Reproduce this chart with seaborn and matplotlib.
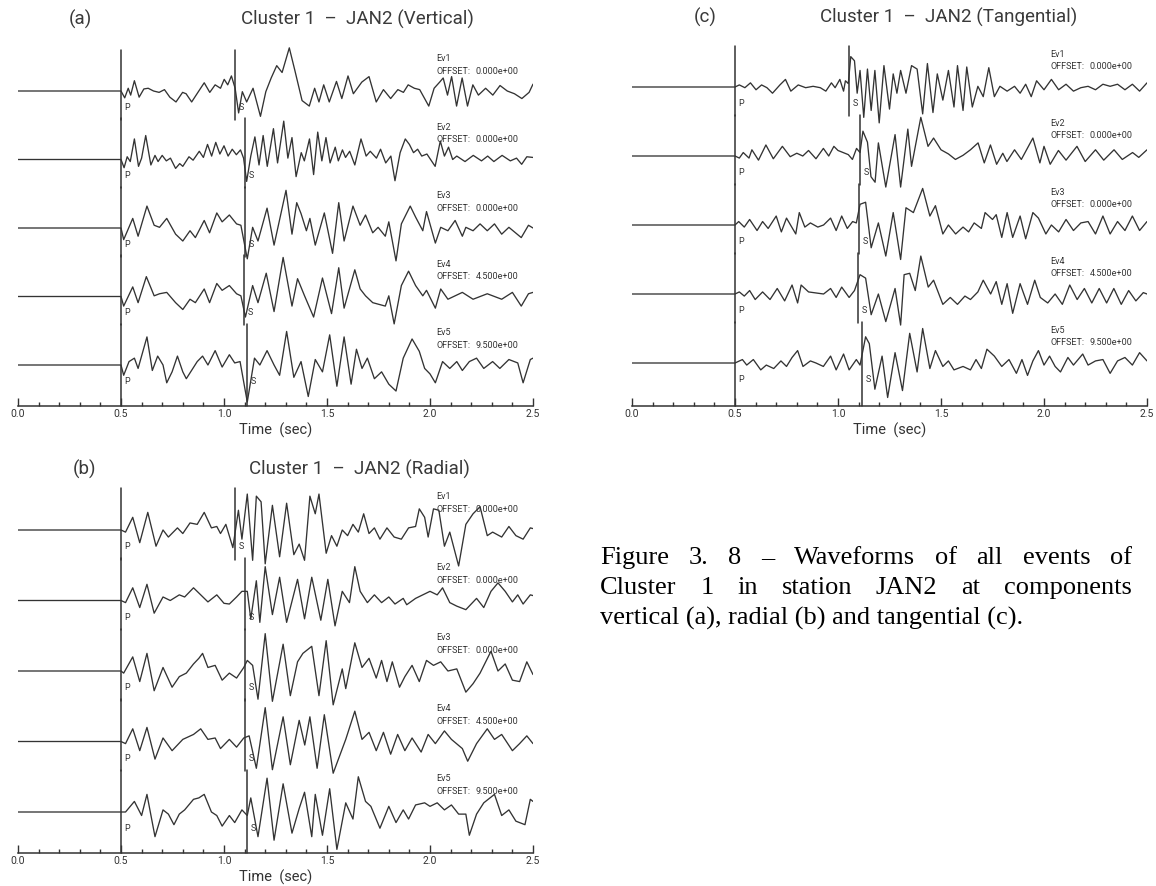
import numpy as np
import pandas as pd
import matplotlib
matplotlib.use("Agg")
import matplotlib.pyplot as plt
import seaborn as sns
from matplotlib.ticker import MultipleLocator, FormatStrFormatter

sns.set_theme(style="white")
plt.rcParams["font.family"] = ["DejaVu Sans"]

# ---------------- data: (time s, normalised amplitude) extrema ----------------
EVENTS = ["Ev1", "Ev2", "Ev3", "Ev4", "Ev5"]
OFFSETS = ["0.000e+00", "0.000e+00", "0.000e+00", "4.500e+00", "9.500e+00"]
P_TIME = 0.5
S_VERT = [1.053, 1.100, 1.100, 1.096, 1.113]
S_RAD = [1.053, 1.100, 1.100, 1.100, 1.113]
S_TAN = [1.052, 1.107, 1.101, 1.098, 1.116]

VERT_EV1 = [(0.500,0),(0.518,-0.10),(0.535,0.04),(0.547,-0.06),(0.565,0.15),(0.588,-0.09),(0.611,0.03),(0.632,0.04),(0.658,0),(0.685,-0.02),(0.711,0.02),(0.737,-0.09),(0.767,-0.16),(0.799,-0.02),(0.816,-0.04),(0.843,-0.16),(0.869,-0.04),(0.904,0.12),(0.931,-0.02),(0.957,0.09),(0.983,0.04),(1.001,0.17),(1.018,0.09),(1.036,0.22),(1.054,0.04),(1.071,-0.32),(1.089,-0.01),(1.110,-0.16),(1.141,0.04),(1.177,-0.37),(1.203,-0.01),(1.229,0.19),(1.256,0.37),(1.282,0.27),(1.317,0.63),(1.344,0.30),(1.379,-0.14),(1.414,-0.22),(1.440,0.04),(1.461,-0.16),(1.484,0.09),(1.511,-0.16),(1.546,0.14),(1.572,-0.11),(1.602,0.22),(1.628,-0.04),(1.669,0.13),(1.704,0.21),(1.739,-0.16),(1.774,0.02),(1.809,-0.11),(1.844,0.02),(1.871,-0.02),(1.894,0.09),(1.924,0.04),(1.950,0.02),(1.994,-0.22),(2.020,0.04),(2.047,0.13),(2.064,0.19),(2.085,-0.06),(2.105,0.21),(2.129,-0.22),(2.156,0.19),(2.182,-0.22),(2.208,0.09),(2.235,-0.06),(2.270,0.04),(2.305,-0.06),(2.340,0.08),(2.375,0),(2.410,-0.04),(2.446,-0.11),(2.481,-0.02),(2.500,0.10)]
VERT_EV2 = [(0.50,0),(0.515,-0.12),(0.53,0.04),(0.545,-0.03),(0.565,0.30),(0.585,-0.10),(0.60,0.02),(0.62,0.35),(0.645,-0.08),(0.665,0.06),(0.68,-0.03),(0.70,0.06),(0.72,-0.02),(0.74,0.02),(0.765,-0.13),(0.785,-0.06),(0.80,-0.10),(0.83,0.04),(0.85,-0.01),(0.88,0.12),(0.90,0.03),(0.92,0.22),(0.94,0.05),(0.96,0.25),(0.98,0.08),(1.00,0.20),(1.02,0.05),(1.04,0.15),(1.06,0.07),(1.08,0.14),(1.095,0.02),(1.11,-0.32),(1.13,0.05),(1.15,0.33),(1.17,-0.08),(1.19,0.35),(1.21,-0.10),(1.24,0.45),(1.26,-0.05),(1.29,0.56),(1.31,0.02),(1.33,0.32),(1.35,-0.25),(1.375,0.10),(1.39,-0.02),(1.415,0.30),(1.435,-0.22),(1.455,0.40),(1.475,-0.02),(1.495,0.32),(1.515,-0.05),(1.54,0.18),(1.555,-0.02),(1.575,0.14),(1.59,0.03),(1.61,0.12),(1.635,-0.08),(1.665,0.30),(1.69,0.05),(1.71,0.12),(1.74,0.02),(1.76,0.15),(1.785,-0.05),(1.81,0.05),(1.83,-0.31),(1.855,0.10),(1.88,0.30),(1.90,0.22),(1.92,0.10),(1.94,0.15),(1.96,0.05),(1.985,0.08),(2.025,-0.10),(2.05,0.27),(2.07,0.05),(2.09,0.18),(2.11,0.0),(2.13,0.05),(2.17,-0.03),(2.21,0.06),(2.25,-0.02),(2.28,0.05),(2.31,-0.03),(2.35,0.06),(2.39,-0.02),(2.42,0.02),(2.445,-0.07),(2.47,0.04),(2.50,0.03)]
VERT_EV3 = [(0.50,0),(0.513,-0.17),(0.557,0.14),(0.583,-0.12),(0.626,0.32),(0.661,0.04),(0.687,0.01),(0.722,0.14),(0.765,-0.09),(0.80,-0.19),(0.835,-0.04),(0.861,-0.14),(0.904,0.11),(0.93,-0.07),(0.965,0.22),(0.991,0.09),(1.026,0.19),(1.061,0.06),(1.082,0.04),(1.113,-0.45),(1.139,0.01),(1.165,-0.19),(1.209,0.29),(1.243,-0.25),(1.301,0.55),(1.33,-0.09),(1.353,0.37),(1.374,0.21),(1.40,-0.04),(1.417,0.14),(1.443,-0.25),(1.487,0.22),(1.527,-0.37),(1.557,0.37),(1.583,-0.19),(1.626,0.32),(1.661,0.04),(1.687,0.19),(1.722,-0.07),(1.748,0.01),(1.783,-0.12),(1.80,0.09),(1.835,-0.48),(1.861,0.06),(1.904,0.32),(1.93,0.16),(1.965,-0.04),(1.983,0.24),(2.026,-0.22),(2.052,0.01),(2.087,-0.04),(2.122,0.11),(2.157,-0.12),(2.174,0.01),(2.209,-0.04),(2.243,0.06),(2.278,-0.04),(2.313,0.06),(2.348,-0.09),(2.383,0.01),(2.443,-0.14),(2.478,0.04),(2.50,0.0)]
VERT_EV4 = [(0.50,0),(0.513,-0.14),(0.557,0.14),(0.583,-0.09),(0.623,0.29),(0.661,0.01),(0.687,0.04),(0.722,0.06),(0.765,-0.09),(0.80,-0.19),(0.835,-0.04),(0.861,-0.09),(0.904,0.11),(0.93,-0.09),(0.965,0.19),(0.991,0.09),(1.026,0.16),(1.061,0.04),(1.082,0.01),(1.104,-0.30),(1.139,0.16),(1.165,-0.09),(1.205,0.34),(1.243,-0.22),(1.287,0.57),(1.33,-0.14),(1.357,0.26),(1.391,0.01),(1.435,-0.30),(1.478,0.27),(1.522,-0.25),(1.557,0.42),(1.583,-0.17),(1.635,0.39),(1.661,0.11),(1.687,0.01),(1.722,-0.09),(1.783,-0.14),(1.80,0.01),(1.826,-0.40),(1.861,0.16),(1.896,0.37),(1.93,0.16),(1.965,0.01),(1.983,0.09),(2.026,-0.17),(2.052,0.11),(2.087,-0.04),(2.157,0.06),(2.209,-0.04),(2.278,0.04),(2.348,-0.04),(2.40,0.06),(2.443,-0.14),(2.478,0.04),(2.50,0.06)]
VERT_EV5 = [(0.50,0),(0.513,-0.15),(0.539,0.05),(0.565,0.10),(0.583,-0.05),(0.626,0.41),(0.652,-0.08),(0.678,0.13),(0.704,0),(0.722,-0.26),(0.748,-0.10),(0.774,0.13),(0.80,-0.10),(0.817,-0.20),(0.87,0.05),(0.896,0.13),(0.922,0),(0.957,0.21),(0.991,-0.03),(1.026,0.15),(1.052,0.03),(1.078,0.05),(1.113,-0.54),(1.148,0.10),(1.174,0),(1.209,0.21),(1.243,0),(1.27,-0.15),(1.304,0.49),(1.339,-0.18),(1.374,0.05),(1.409,-0.46),(1.443,0.08),(1.478,-0.10),(1.513,0.44),(1.548,-0.31),(1.583,0.41),(1.617,-0.28),(1.643,0.23),(1.67,-0.05),(1.696,0.10),(1.73,-0.20),(1.765,-0.10),(1.80,-0.28),(1.835,-0.38),(1.87,0.10),(1.913,0.38),(1.948,0.20),(1.974,-0.05),(2.0,-0.13),(2.026,-0.26),(2.061,0.05),(2.096,-0.05),(2.13,0.05),(2.157,-0.08),(2.191,0.05),(2.226,0.10),(2.261,-0.05),(2.304,0.05),(2.339,-0.05),(2.383,0.08),(2.426,0.03),(2.452,-0.26),(2.487,0.08),(2.50,0.10)]

RAD_EV1 = [(0.50,0),(0.522,-0.03),(0.557,0.18),(0.591,-0.18),(0.63,0.25),(0.67,-0.23),(0.704,0),(0.730,-0.10),(0.774,0.03),(0.80,-0.05),(0.835,0.10),(0.87,0.08),(0.904,0.25),(0.939,0.03),(0.965,0.05),(0.983,-0.05),(1.009,0.08),(1.043,-0.25),(1.07,0.28),(1.087,-0.13),(1.113,0.51),(1.139,-0.43),(1.157,0.48),(1.18,0.40),(1.20,-0.48),(1.235,0.35),(1.27,-0.38),(1.304,0.38),(1.339,-0.35),(1.365,-0.20),(1.391,-0.43),(1.417,0.48),(1.443,0.23),(1.461,0.51),(1.496,-0.33),(1.522,-0.08),(1.548,-0.23),(1.574,0),(1.60,-0.08),(1.626,0.08),(1.652,-0.03),(1.678,0.23),(1.704,-0.05),(1.73,0.03),(1.757,-0.13),(1.791,0.03),(1.826,-0.10),(1.861,-0.13),(1.896,0.03),(1.93,0.05),(1.948,0.30),(1.974,0.18),(1.991,-0.10),(2.017,0.30),(2.043,0.28),(2.07,-0.23),(2.096,-0.03),(2.139,-0.51),(2.174,0.08),(2.209,0.23),(2.243,0.33),(2.278,-0.08),(2.304,-0.03),(2.348,-0.10),(2.383,0.05),(2.417,-0.08),(2.452,-0.13),(2.487,0.03),(2.50,0.02)]
RAD_EV2 = [(0.50,0),(0.522,-0.03),(0.557,0.18),(0.591,-0.10),(0.626,0.23),(0.661,-0.18),(0.704,0.05),(0.739,0),(0.783,0.08),(0.809,0.05),(0.852,0.18),(0.887,0.08),(0.922,-0.02),(0.965,0.08),(1.0,-0.04),(1.026,-0.05),(1.061,0.05),(1.087,0.13),(1.113,0.13),(1.13,-0.26),(1.157,0.28),(1.174,-0.31),(1.20,0.48),(1.235,-0.20),(1.27,0.33),(1.304,-0.31),(1.357,0.30),(1.391,-0.26),(1.426,0.33),(1.47,-0.28),(1.504,0.30),(1.539,-0.36),(1.574,0.13),(1.609,-0.03),(1.635,0.48),(1.661,0.13),(1.696,-0.03),(1.73,0.08),(1.765,-0.03),(1.80,0.05),(1.83,-0.05),(1.87,0.03),(1.887,-0.06),(1.93,0.03),(1.965,0.08),(2.0,0.13),(2.035,0.08),(2.061,0.18),(2.096,-0.03),(2.13,-0.08),(2.174,-0.13),(2.226,0.03),(2.261,-0.10),(2.296,0.13),(2.33,0.25),(2.365,0.13),(2.40,-0.02),(2.426,0.08),(2.452,-0.05),(2.487,0.08),(2.50,0.07)]
RAD_EV3 = [(0.50,0),(0.513,-0.03),(0.557,0.20),(0.591,-0.15),(0.626,0.25),(0.661,-0.28),(0.704,0.05),(0.748,-0.23),(0.783,-0.08),(0.817,-0.03),(0.852,0.10),(0.878,0.18),(0.896,0.25),(0.922,0.05),(0.957,0.08),(0.991,-0.13),(1.026,-0.03),(1.061,-0.10),(1.096,0.05),(1.113,0.15),(1.139,0.08),(1.165,-0.40),(1.20,0.53),(1.235,-0.43),(1.287,0.38),(1.322,-0.35),(1.357,0.13),(1.383,0.25),(1.426,0.35),(1.461,-0.35),(1.496,0.43),(1.53,-0.48),(1.574,0.03),(1.591,-0.25),(1.635,0.40),(1.67,0.05),(1.704,0.18),(1.739,-0.10),(1.765,0.15),(1.791,-0.15),(1.817,0.13),(1.852,-0.23),(1.878,-0.08),(1.913,0.08),(1.948,-0.15),(1.983,0.15),(2.017,0.08),(2.052,0.13),(2.087,0),(2.13,0.03),(2.174,-0.30),(2.209,-0.18),(2.243,-0.03),(2.296,0.28),(2.33,0),(2.365,0.10),(2.40,-0.13),(2.435,-0.15),(2.47,0.13),(2.50,-0.05)]
RAD_EV4 = [(0.50,0),(0.522,-0.03),(0.557,0.18),(0.591,-0.13),(0.626,0.20),(0.665,-0.25),(0.704,0.05),(0.748,-0.13),(0.80,0.03),(0.852,0.10),(0.887,0.18),(0.922,0.03),(0.957,0.05),(0.983,-0.10),(1.026,0.03),(1.061,-0.08),(1.096,0.05),(1.122,0.08),(1.157,-0.38),(1.20,0.48),(1.235,-0.40),(1.287,0.35),(1.322,-0.33),(1.365,0.30),(1.392,-0.05),(1.417,0.35),(1.452,-0.38),(1.487,0.38),(1.53,-0.45),(1.591,0.03),(1.635,0.43),(1.67,0.03),(1.704,0.13),(1.739,-0.13),(1.774,0.13),(1.809,-0.18),(1.843,0.10),(1.878,-0.13),(1.913,0.05),(1.957,-0.15),(1.991,0.10),(2.026,-0.03),(2.07,0.15),(2.104,0.03),(2.157,-0.10),(2.183,-0.28),(2.226,-0.03),(2.278,0.18),(2.313,0.03),(2.348,0.10),(2.40,-0.13),(2.435,-0.03),(2.47,0.08),(2.50,-0.03)]
RAD_EV5 = [(0.50,0),(0.522,0),(0.565,0.15),(0.60,-0.05),(0.626,0.25),(0.665,-0.35),(0.704,0.03),(0.73,-0.03),(0.757,-0.18),(0.783,-0.03),(0.809,0.03),(0.852,0.18),(0.878,0.20),(0.904,0.25),(0.939,0),(0.965,-0.05),(0.991,-0.20),(1.026,-0.05),(1.052,-0.15),(1.087,0.03),(1.113,-0.05),(1.13,0.20),(1.165,-0.35),(1.209,0.48),(1.243,-0.40),(1.287,0.40),(1.33,-0.30),(1.365,0.05),(1.391,0.28),(1.426,-0.35),(1.443,0.25),(1.478,-0.33),(1.513,0.33),(1.548,-0.53),(1.591,0.13),(1.626,-0.10),(1.652,0.50),(1.687,0.15),(1.713,0.08),(1.757,-0.23),(1.80,0.08),(1.835,-0.15),(1.87,0.03),(1.896,-0.10),(1.93,0.10),(1.974,0.13),(2.0,0.08),(2.035,0.13),(2.07,0.03),(2.104,0.10),(2.139,-0.03),(2.174,-0.03),(2.191,-0.33),(2.226,-0.03),(2.261,0.13),(2.313,0.25),(2.348,-0.05),(2.383,0.03),(2.417,-0.13),(2.461,-0.18),(2.487,0.18),(2.50,0.15)]

TAN_EV1 = [(0.50,0),(0.521,0.03),(0.548,-0.01),(0.575,0.06),(0.602,-0.04),(0.629,0.03),(0.655,-0.01),(0.682,-0.09),(0.718,0.03),(0.745,0.11),(0.771,-0.06),(0.807,0.03),(0.843,-0.01),(0.879,0.01),(0.914,-0.01),(0.941,-0.06),(0.968,0.06),(0.986,-0.01),(1.009,0.11),(1.027,-0.06),(1.036,0.09),(1.050,0.05),(1.062,0.44),(1.080,0.38),(1.093,-0.09),(1.107,0.24),(1.125,-0.44),(1.143,0.26),(1.161,-0.34),(1.179,0.24),(1.20,-0.52),(1.223,0.31),(1.25,-0.32),(1.268,0.19),(1.286,-0.09),(1.304,0.24),(1.33,-0.09),(1.357,0.31),(1.384,0.26),(1.411,-0.39),(1.434,0.34),(1.461,-0.37),(1.482,0.19),(1.509,-0.19),(1.536,0.24),(1.563,-0.29),(1.58,0.31),(1.607,-0.34),(1.625,0.29),(1.652,-0.29),(1.679,0.01),(1.705,-0.14),(1.732,0.28),(1.759,-0.14),(1.786,0.01),(1.821,-0.06),(1.857,0.01),(1.884,-0.09),(1.911,0.04),(1.938,-0.14),(1.964,0.09),(2.0,-0.04),(2.036,0.11),(2.071,-0.04),(2.107,0.04),(2.143,-0.06),(2.179,-0.01),(2.214,0.01),(2.25,-0.04),(2.286,0.04),(2.321,0.01),(2.357,0.04),(2.393,-0.04),(2.429,0.04),(2.464,-0.06),(2.50,0.06)]
TAN_EV2 = [(0.50,0),(0.521,-0.03),(0.54,0.05),(0.568,-0.03),(0.582,0.09),(0.614,-0.06),(0.65,0.16),(0.686,-0.04),(0.73,0.14),(0.768,-0.01),(0.80,0.04),(0.829,0),(0.857,0.08),(0.893,-0.04),(0.929,0.11),(0.955,0),(0.98,0.14),(1.0,0.08),(1.05,0.02),(1.07,-0.05),(1.09,0.11),(1.107,0.05),(1.121,0.36),(1.143,0.20),(1.16,-0.30),(1.18,-0.38),(1.196,0.19),(1.232,-0.45),(1.277,0.31),(1.304,-0.45),(1.339,0.39),(1.357,-0.15),(1.402,0.56),(1.437,0.14),(1.464,0.26),(1.50,0.09),(1.536,0.03),(1.57,-0.05),(1.607,0.01),(1.643,0.09),(1.68,0.19),(1.71,-0.10),(1.74,0.16),(1.77,-0.12),(1.80,0.04),(1.82,-0.08),(1.857,0.09),(1.89,-0.05),(1.946,0.26),(1.98,-0.10),(2.0,0.14),(2.03,-0.12),(2.07,0.08),(2.107,-0.06),(2.16,0.14),(2.20,-0.08),(2.25,0.09),(2.29,-0.06),(2.34,0.09),(2.38,-0.05),(2.43,0.05),(2.46,-0.02),(2.50,0.09)]
TAN_EV3 = [(0.50,0),(0.518,0.05),(0.545,-0.03),(0.571,0.08),(0.607,-0.08),(0.634,0.05),(0.661,-0.05),(0.70,0.13),(0.725,-0.10),(0.75,0.10),(0.795,-0.13),(0.812,0.18),(0.839,-0.03),(0.866,0.03),(0.902,-0.03),(0.93,0),(0.964,0.10),(0.991,-0.08),(1.018,0.13),(1.045,-0.05),(1.071,0.05),(1.089,0.03),(1.107,0.30),(1.134,0.33),(1.161,-0.33),(1.196,0.03),(1.232,-0.45),(1.268,0.18),(1.304,-0.50),(1.33,0.25),(1.366,0.18),(1.411,0.53),(1.446,0.13),(1.473,0.28),(1.509,-0.13),(1.536,0),(1.571,-0.13),(1.607,-0.03),(1.634,-0.10),(1.661,0.03),(1.696,-0.05),(1.714,0.18),(1.75,0.08),(1.768,0.15),(1.795,-0.18),(1.821,0.18),(1.848,-0.18),(1.884,0.13),(1.911,-0.20),(1.946,0.18),(1.973,0.10),(2.009,-0.13),(2.036,0),(2.071,-0.10),(2.107,0.08),(2.143,-0.08),(2.179,0.03),(2.214,0.05),(2.25,-0.13),(2.286,0.13),(2.321,-0.13),(2.357,0.05),(2.393,-0.08),(2.429,0.13),(2.464,-0.08),(2.50,0.05)]
TAN_EV4 = [(0.50,0),(0.521,0.03),(0.545,-0.03),(0.571,0.05),(0.598,-0.08),(0.634,0.03),(0.67,-0.08),(0.705,0.08),(0.741,-0.10),(0.777,0.13),(0.804,-0.13),(0.821,0.13),(0.857,0.03),(0.93,0),(0.964,0.08),(0.991,-0.05),(1.018,0.10),(1.054,-0.05),(1.08,0.05),(1.107,0.28),(1.134,0.23),(1.161,-0.30),(1.196,0),(1.232,-0.40),(1.277,0.08),(1.304,-0.45),(1.321,0.28),(1.348,0.30),(1.375,0.05),(1.402,0.55),(1.438,0.10),(1.464,0.20),(1.509,-0.15),(1.545,-0.05),(1.58,-0.15),(1.616,-0.03),(1.643,-0.08),(1.679,0.03),(1.705,0.20),(1.741,0),(1.768,0.18),(1.795,-0.15),(1.821,0.15),(1.848,-0.28),(1.884,0.15),(1.92,-0.15),(1.955,0.20),(1.982,-0.05),(2.018,-0.13),(2.054,0),(2.089,-0.15),(2.125,0.13),(2.161,-0.08),(2.196,0.08),(2.232,-0.13),(2.268,0.08),(2.304,-0.13),(2.339,0.08),(2.375,-0.15),(2.411,0.05),(2.446,-0.10),(2.482,0.02),(2.50,0)]
TAN_EV5 = [(0.50,0),(0.536,0.05),(0.557,-0.03),(0.589,0.05),(0.625,-0.10),(0.652,-0.03),(0.688,-0.08),(0.723,0.03),(0.75,-0.05),(0.777,0.08),(0.804,0.18),(0.83,-0.05),(0.866,0.03),(0.893,0),(0.929,-0.05),(0.964,0.10),(0.991,-0.10),(1.027,0.13),(1.054,-0.10),(1.089,0.05),(1.107,-0.03),(1.134,0.38),(1.152,0.28),(1.179,-0.38),(1.214,0.10),(1.241,-0.50),(1.277,0.15),(1.313,-0.40),(1.348,0.43),(1.384,-0.13),(1.411,0.50),(1.446,-0.08),(1.473,0.18),(1.509,-0.05),(1.536,0.03),(1.563,-0.10),(1.607,-0.05),(1.643,-0.10),(1.67,0.05),(1.696,-0.08),(1.723,0.20),(1.759,0.10),(1.795,-0.05),(1.83,0.05),(1.866,-0.15),(1.893,0.05),(1.92,-0.18),(1.946,0.03),(1.973,0.18),(2.0,-0.03),(2.027,0.10),(2.054,-0.05),(2.08,-0.13),(2.116,0.08),(2.143,-0.03),(2.188,0.13),(2.214,-0.03),(2.25,0.03),(2.286,0.05),(2.321,-0.15),(2.357,0.03),(2.393,0.08),(2.429,-0.03),(2.464,0.15),(2.50,0.03)]

VERT = [VERT_EV1, VERT_EV2, VERT_EV3, VERT_EV4, VERT_EV5]
RAD = [RAD_EV1, RAD_EV2, RAD_EV3, RAD_EV4, RAD_EV5]
TAN = [TAN_EV1, TAN_EV2, TAN_EV3, TAN_EV4, TAN_EV5]

TICKS = [0.0, 0.5, 1.0, 1.5, 2.0, 2.5]
CAPTION_L1 = ["Figure", "3.", "8", "\u2013", "Waveforms", "of", "all", "events", "of"]
CAPTION_L2 = ["Cluster", "1", "in", "station", "JAN2", "at", "components"]
CAPTION_L3 = "vertical (a), radial (b) and tangential (c)."

# ---------------- layout (figure pixels) ----------------
W, H = 1156, 886
INK = "#333333"
SANS = ["Roboto", "DejaVu Sans"]

PANELS = [
    dict(data=VERT, s=S_VERT, letter="(a)", title="Cluster 1  \u2013  JAN2 (Vertical)",
         left=18, right=533, base0=91, sp=68.5, axis=406, ty=19, lx=80, tx=357),
    dict(data=RAD, s=S_RAD, letter="(b)", title="Cluster 1  \u2013  JAN2 (Radial)",
         left=18, right=533, base0=530, sp=70.5, axis=853, ty=469, lx=84, tx=359),
    dict(data=TAN, s=S_TAN, letter="(c)", title="Cluster 1  \u2013  JAN2 (Tangential)",
         left=632, right=1147, base0=87, sp=69.0, axis=406, ty=17, lx=705, tx=949),
]

fig = plt.figure(figsize=(W / 100, H / 100), dpi=100)
fig.patch.set_facecolor("white")

for p in PANELS:
    top_units = 0.85
    top_px = p["base0"] - top_units * p["sp"]
    ax = fig.add_axes([p["left"] / W, 1 - p["axis"] / H,
                       (p["right"] - p["left"]) / W, (p["axis"] - top_px) / H])
    ybot = -(p["axis"] - p["base0"]) / p["sp"]

    rows = []
    for i, tr in enumerate(p["data"]):
        rows.append((EVENTS[i], 0.0, -i))
        for t, a in tr:
            rows.append((EVENTS[i], t, a - i))
    df = pd.DataFrame(rows, columns=["event", "t", "y"])
    sns.lineplot(data=df, x="t", y="y", units="event", estimator=None, sort=False,
                 color=INK, lw=0.95, ax=ax, legend=False)

    n = len(p["data"])
    for i in range(n):
        b = -i
        lo = ybot if i == n - 1 else b - 0.42
        for tm, lab in ((P_TIME, "P"), (p["s"][i], "S")):
            ax.plot([tm, tm], [lo, b + 0.6], color=INK, lw=1.1, clip_on=False)
            ax.text(tm + 0.018, b - 0.24, lab, fontsize=6.5, family=SANS,
                    color=INK, ha="left", va="center")
        ax.text(2.03, b + 0.47, EVENTS[i], fontsize=6.5, family=SANS, color=INK,
                ha="left", va="center")
        ax.text(2.03, b + 0.29, "OFFSET:", fontsize=6.5, family=SANS, color=INK,
                ha="left", va="center")
        ax.text(2.22, b + 0.29, OFFSETS[i], fontsize=6.5, family=SANS, color=INK,
                ha="left", va="center")

    ax.set_xlim(0, 2.5)
    ax.set_ylim(ybot, top_units)
    ax.set_facecolor("none")
    for sp_name in ("left", "right", "top"):
        ax.spines[sp_name].set_visible(False)
    ax.spines["bottom"].set_color(INK)
    ax.spines["bottom"].set_linewidth(1.1)
    ax.set_xticks(TICKS)
    ax.xaxis.set_major_formatter(FormatStrFormatter("%.1f"))
    ax.xaxis.set_minor_locator(MultipleLocator(0.1))
    ax.tick_params(axis="x", which="major", direction="in", length=6, width=1.0,
                   color=INK, pad=2.5, labelsize=7.5, labelcolor=INK, bottom=True)
    ax.tick_params(axis="x", which="minor", direction="in", length=2.8, width=1.0,
                   color=INK, bottom=True)
    for lab in ax.get_xticklabels():
        lab.set_family(SANS)
    ax.set_yticks([])
    ax.set_xlabel("Time  (sec)", fontsize=10.5, family=SANS, color=INK, labelpad=2)
    ax.set_ylabel("")

    fig.text(p["lx"] / W, 1 - p["ty"] / H, p["letter"], fontsize=13.5, family=SANS,
             color="#3a3a3a", ha="center", va="center")
    fig.text(p["tx"] / W, 1 - p["ty"] / H, p["title"], fontsize=13.5, family=SANS,
             color="#3a3a3a", ha="center", va="center")

# ---------------- caption (justified Times-like) ----------------
SERIF = ["Liberation Serif", "DejaVu Serif"]
CAP_SIZE = 19
cap_left, cap_right = 600, 1132
line_y = [558, 588, 618]
renderer = fig.canvas.get_renderer()

def justified(words, ypx):
    arts = [fig.text(0, 1 - ypx / H, w, fontsize=CAP_SIZE, family=SERIF, color="black",
                     ha="left", va="center") for w in words]
    widths = [a.get_window_extent(renderer).width for a in arts]
    gap = (cap_right - cap_left - sum(widths)) / (len(words) - 1)
    x = cap_left
    for a, wdt in zip(arts, widths):
        a.set_x(x / W)
        x += wdt + gap

justified(CAPTION_L1, line_y[0])
justified(CAPTION_L2, line_y[1])
fig.text(cap_left / W, 1 - line_y[2] / H, CAPTION_L3, fontsize=CAP_SIZE, family=SERIF,
         color="black", ha="left", va="center")

fig.savefig("out.png", dpi=100, facecolor="white")
